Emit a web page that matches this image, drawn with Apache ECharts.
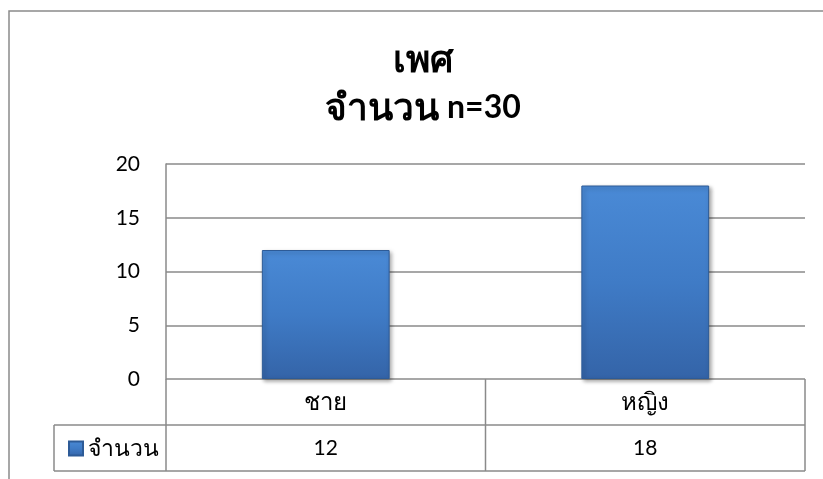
<!DOCTYPE html>
<html><head><meta charset="utf-8">
<script src="https://cdn.jsdelivr.net/npm/echarts@6/dist/echarts.min.js"></script>
<style>html,body{margin:0;padding:0;background:#fff}#c{width:823px;height:479px}</style>
</head><body><div id="c"></div>
<script>
const titleLines = ['เพศ', 'จำนวน n=30'];
const categories = ['ชาย', 'หญิง'];
const seriesName = 'จำนวน';
const values = [12, 18];
const yTicks = {min: 0, max: 20, interval: 5};

const FONT = "Lato, 'Noto Sans', sans-serif";
const GRID = {left: 166, right: 18, top: 164, bottom: 100};
const W = 823, H = 479;
const gx0 = GRID.left, gx1 = W - GRID.right, gy1 = H - GRID.bottom;
const rowH = 46;
const lineC = '#8a8a8a';

// wrap Thai runs and latin runs in separate rich styles
function richify(s) {
  return s.replace(/([\u0E00-\u0E7F]+)|([^\u0E00-\u0E7F]+)/g, (m, th, la) => th ? '{t|' + th + '}' : '{l|' + la + '}');
}

const chart = echarts.init(document.getElementById('c'), null, {renderer: 'canvas'});
function line(x1, y1, x2, y2) {
  return {type: 'line', shape: {x1, y1, x2, y2}, style: {stroke: lineC, lineWidth: 1.5}, silent: true};
}
const midX = (gx0 + gx1) / 2;
chart.setOption({
  animation: false,
  textStyle: {fontFamily: FONT},
  title: {
    text: titleLines.map(richify).join('\n'), left: 418, top: 31, textAlign: 'center',
    textStyle: {
      fontSize: 32, fontWeight: 'bold', color: '#000', lineHeight: 48, fontFamily: FONT,
      rich: {
        t: {fontSize: 37, fontWeight: 'bold', color: '#000', lineHeight: 48, fontFamily: FONT},
        l: {fontSize: 32, fontWeight: 'bold', color: '#000', lineHeight: 48, fontFamily: FONT}
      }
    }
  },
  legend: {
    left: 63, top: 432, itemWidth: 14, itemHeight: 14, itemGap: 5,
    icon: 'rect', textStyle: {fontSize: 23, color: '#000', fontFamily: FONT},
    data: [seriesName]
  },
  grid: {left: GRID.left, right: GRID.right, top: GRID.top, bottom: GRID.bottom, containLabel: false},
  xAxis: [
    {type: 'category', data: categories, axisLine: {show: false}, axisTick: {show: false},
     axisLabel: {margin: 11, fontSize: 24, color: '#000', fontFamily: FONT}},
    {type: 'category', data: values.map(String), position: 'bottom', offset: rowH,
     axisLine: {show: false}, axisTick: {show: false},
     axisLabel: {margin: 13, fontSize: 21, color: '#000', fontFamily: FONT}}
  ],
  yAxis: {
    type: 'value', min: yTicks.min, max: yTicks.max, interval: yTicks.interval,
    axisLine: {show: true, lineStyle: {color: lineC, width: 1.5}},
    axisTick: {show: false},
    splitLine: {lineStyle: {color: lineC, width: 1.5}},
    axisLabel: {margin: 26, fontSize: 21, color: '#000', fontFamily: FONT}
  },
  series: [{
    name: seriesName, type: 'bar', data: values, barWidth: '40%', xAxisIndex: 0,
    itemStyle: {
      color: new echarts.graphic.LinearGradient(0, 0, 0, 1, [
        {offset: 0, color: '#4a8ad6'}, {offset: 0.5, color: '#3f7bc6'}, {offset: 1, color: '#3464a8'}]),
      borderColor: '#2d5b97', borderWidth: 1,
      shadowColor: 'rgba(0,0,0,0.35)', shadowBlur: 4, shadowOffsetX: 2, shadowOffsetY: 2
    }
  }],
  graphic: [
    {type: 'rect', shape: {x: 9, y: 11, width: 900, height: 600}, style: {fill: 'none', stroke: lineC, lineWidth: 1.5}, silent: true, z: -1},
    line(gx0, gy1, gx0, gy1 + 2 * rowH),
    line(midX, gy1, midX, gy1 + 2 * rowH),
    line(gx1, gy1, gx1, gy1 + 2 * rowH),
    line(54, gy1 + rowH, gx1, gy1 + rowH),
    line(54, gy1 + 2 * rowH, gx1, gy1 + 2 * rowH),
    line(54, gy1 + rowH, 54, gy1 + 2 * rowH)
  ]
});
</script></body></html>
